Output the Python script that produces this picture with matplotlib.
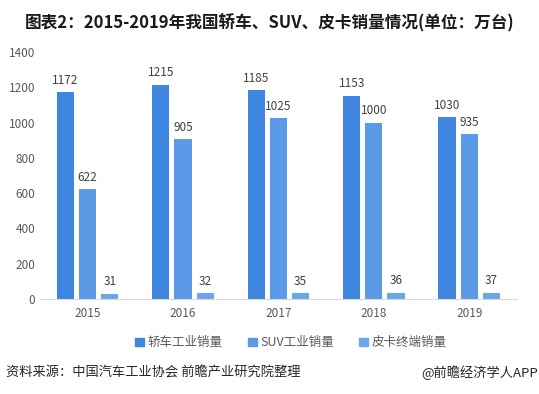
import matplotlib
matplotlib.use('Agg')
import matplotlib.pyplot as plt
from matplotlib.patches import Patch
import numpy as np

plt.rcParams['font.family'] = ['Noto Sans CJK SC', 'DejaVu Sans']

years = ['2015', '2016', '2017', '2018', '2019']
sedan = [1172, 1215, 1185, 1153, 1030]
suv = [622, 905, 1025, 1000, 935]
pickup = [31, 32, 35, 36, 37]
names = ['轿车工业销量', 'SUV工业销量', '皮卡终端销量']
colors = ['#3f86e0', '#5b9ae6', '#6aa6ec']

fig = plt.figure(figsize=(5.39, 3.94), dpi=100)
ax = fig.add_axes([0.074, 0.241, 0.885, 0.627])

x = np.arange(len(years))
w = 0.18
off = 0.232
for i, (vals, c) in enumerate(zip([sedan, suv, pickup], colors)):
    pos = x + (i - 1) * off
    ax.bar(pos, vals, w, color=c)
    for p, v in zip(pos, vals):
        ax.text(p, v + 30, str(v), ha='center', va='bottom', fontsize=8.5, color='#404040')

ax.set_xlim(-0.5, 4.5)
ax.set_ylim(0, 1400)
ax.set_yticks(range(0, 1401, 200))
ax.set_xticks(x)
ax.set_xticklabels(years)
ax.tick_params(axis='both', length=0, labelsize=8.5, colors='#595959')
ax.tick_params(axis='x', pad=6)
for s in ['top', 'right', 'left']:
    ax.spines[s].set_visible(False)
ax.spines['bottom'].set_color('#d9d9d9')

handles = [Patch(color=c, label=n) for c, n in zip(colors, names)]
fig.legend(handles=handles, loc='center', bbox_to_anchor=(0.54, 0.13), ncol=3,
           frameon=False, fontsize=9, handlelength=0.7, handleheight=0.7,
           handletextpad=0.3, columnspacing=2.0, labelcolor='#595959')

fig.text(0.5, 0.944, '图表2：2015-2019年我国轿车、SUV、皮卡销量情况(单位：万台)',
         ha='center', va='center', fontsize=12, fontweight='bold', color='#1a1a1a')
fig.text(0.012, 0.053, '资料来源：中国汽车工业协会 前瞻产业研究院整理', ha='left', va='center',
         fontsize=9.5, color='#262626')
fig.text(0.998, 0.053, '@前瞻经济学人APP', ha='right', va='center', fontsize=9.5, color='#262626')

fig.savefig('out.png', dpi=100)
